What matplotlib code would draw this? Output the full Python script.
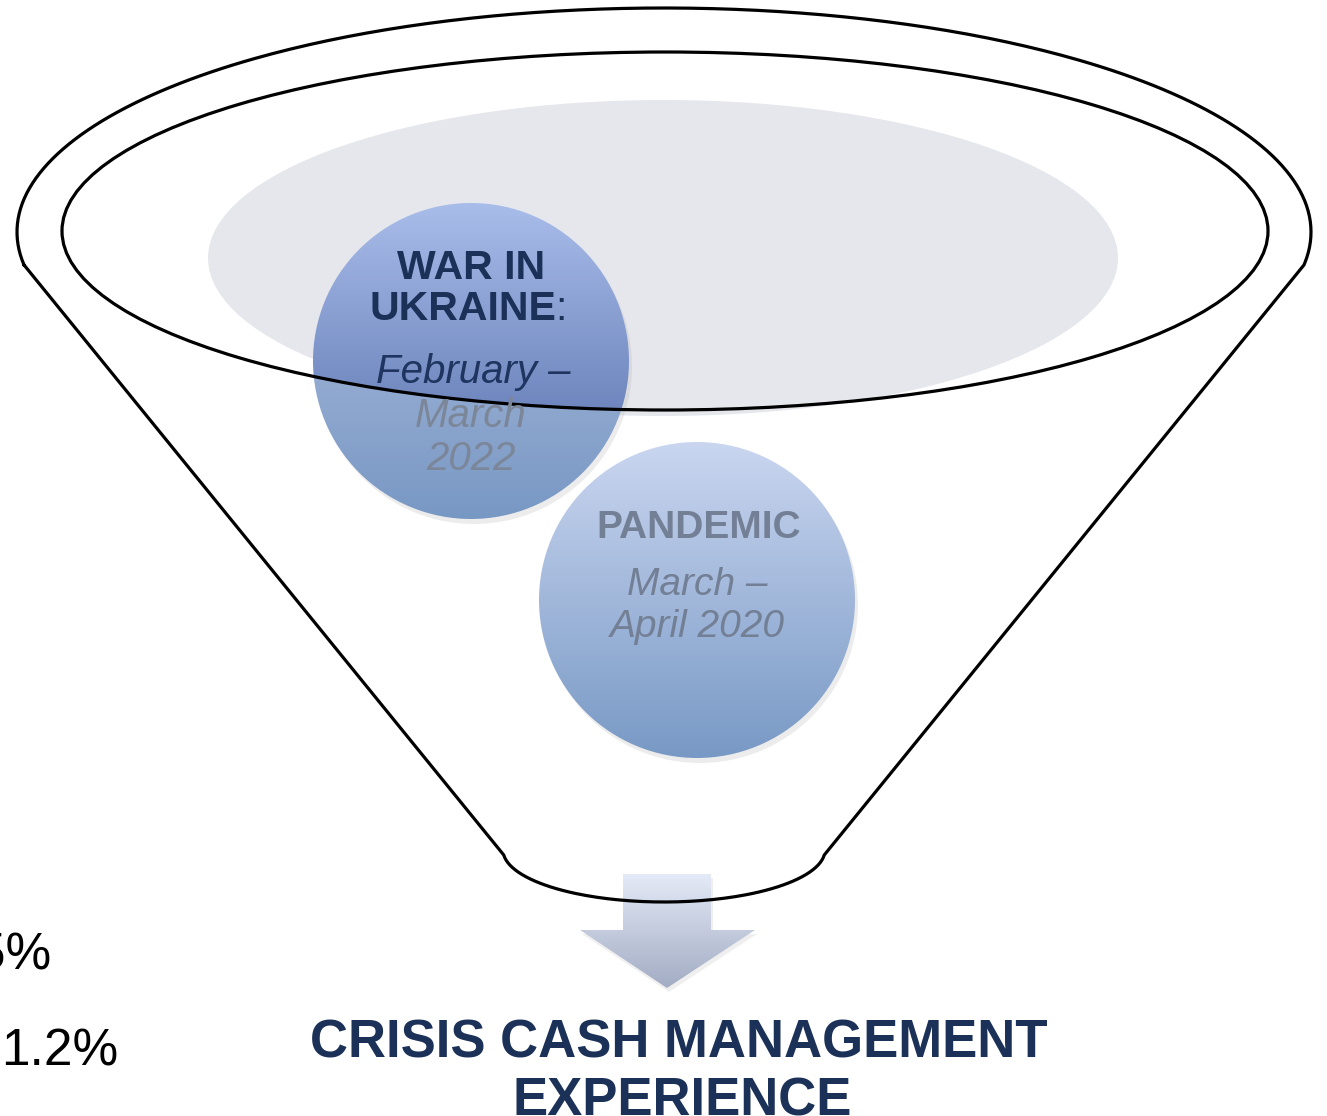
import numpy as np
import matplotlib.pyplot as plt
from matplotlib.colors import to_rgb
from matplotlib.patches import Circle, Ellipse, Polygon, PathPatch
from matplotlib.path import Path

plt.rcParams["font.family"] = ["Liberation Sans", "DejaVu Sans"]

W, H = 1327, 1116

# circle labels
war_title = ["WAR IN", "UKRAINE"]
war_dates = ["February \u2013", "March", "2022"]
pandemic_title = ["PANDEMIC"]
pandemic_dates = ["March \u2013", "April 2020"]
result_lines = ["CRISIS CASH MANAGEMENT", "EXPERIENCE"]
side_values = ["0.5%", "1.2%"]

NAVY = "#1B3157"
GREY_TXT = "#737F95"


def lerp_colors(top, bottom, n):
    t = np.linspace(0, 1, n)[:, None]
    return (1 - t) * np.array(to_rgb(top)) + t * np.array(to_rgb(bottom))


def vgrad(ax, x0, x1, y0, y1, top, bottom, clip, zorder):
    arr = lerp_colors(top, bottom, 256)[:, None, :]
    im = ax.imshow(arr, extent=(x0, x1, y1, y0), aspect="auto",
                   interpolation="bilinear", zorder=zorder)
    im.set_clip_path(clip)
    return im


fig = plt.figure(figsize=(W / 100, H / 100), dpi=100)
ax = fig.add_axes([0, 0, 1, 1])
ax.axis("off")

# grey back ellipse inside the funnel mouth
ax.add_patch(Ellipse((663, 258), 910, 316, facecolor="#E6E7EC",
                     edgecolor="none", zorder=1))

# inner ellipse of the funnel mouth
icx, icy, ia, ib = 665, 231, 603, 179

# --- war circle: darker inside the mouth, washed out below it
c1x, c1y, r = 471, 361, 158
ax.add_patch(Circle((c1x + 3, c1y + 5), r, facecolor="#9A9A9A", alpha=0.18,
                    edgecolor="none", zorder=2))
clip1 = Circle((c1x, c1y), r, transform=ax.transData)
ys, xs = np.mgrid[c1y - r:c1y + r + 1, c1x - r:c1x + r + 1]
inside = ((xs - icx) / ia) ** 2 + ((ys - icy) / ib) ** 2 < 1
t = (ys - (c1y - r)) / (2 * r)
top_in, bot_in = np.array(to_rgb("#A9BDEA")), np.array(to_rgb("#4F69A6"))
top_out, bot_out = np.array(to_rgb("#B4C1E0")), np.array(to_rgb("#7898C4"))
col_in = (1 - t)[..., None] * top_in + t[..., None] * bot_in
col_out = (1 - t)[..., None] * top_out + t[..., None] * bot_out
img = np.where(inside[..., None], col_in, col_out)
im = ax.imshow(img, extent=(c1x - r, c1x + r, c1y + r, c1y - r), aspect="auto",
               interpolation="bilinear", zorder=3)
im.set_clip_path(clip1)

# --- pandemic circle
c2x, c2y = 697, 600
ax.add_patch(Circle((c2x + 3, c2y + 5), r, facecolor="#9A9A9A", alpha=0.18,
                    edgecolor="none", zorder=2))
clip2 = Circle((c2x, c2y), r, transform=ax.transData)
vgrad(ax, c2x - r, c2x + r, c2y - r, c2y + r, "#CAD6F0", "#7899C5", clip2, 3)

# --- arrow
arrow_pts = [(623, 874), (711, 874), (711, 930), (755, 930), (667, 988),
             (580, 930), (623, 930)]
ax.add_patch(Polygon([(x + 2, y + 4) for x, y in arrow_pts], closed=True,
                     facecolor="#999999", alpha=0.15, edgecolor="none", zorder=2))
arrow = Polygon(arrow_pts, closed=True, transform=ax.transData)
vgrad(ax, 580, 755, 874, 988, "#E4EAF7", "#A2ACC3", arrow, 3)

# --- funnel outline
ocx, ocy, oa, ob = 664, 232, 647, 224
th = np.arcsin(33 / ob)
t_top = np.linspace(np.pi - th, 2 * np.pi + th, 300)
top_arc = np.c_[ocx + oa * np.cos(t_top), ocy + ob * np.sin(t_top)]
bcx, bcy, ba, bb = 664, 850, 161, 52
tb = np.arcsin(5 / bb)
t_bot = np.linspace(tb, np.pi - tb, 120)
bot_arc = np.c_[bcx + ba * np.cos(t_bot), bcy + bb * np.sin(t_bot)]
outline = np.vstack([top_arc, bot_arc, top_arc[:1]])
ax.plot(outline[:, 0], outline[:, 1], color="black", lw=2.3,
        solid_joinstyle="round", zorder=6)
ax.add_patch(Ellipse((icx, icy), 2 * ia, 2 * ib, facecolor="none",
                     edgecolor="black", lw=2.3, zorder=6))

# --- circle texts
ax.text(c1x, 279, war_title[0], ha="center", va="baseline", fontsize=29.5,
        fontweight="bold", color=NAVY, zorder=7)
ax.text(c1x - 8, 320, war_title[1], ha="center", va="baseline", fontsize=29.5,
        fontweight="bold", color=NAVY, zorder=7)
ax.text(c1x + 84, 320, ":", ha="left", va="baseline", fontsize=29.5,
        color=NAVY, zorder=7)
ax.text(c1x + 2, 383, war_dates[0], ha="center", va="baseline", fontsize=29,
        style="italic", color="#1F3560", zorder=7)
ax.text(c1x, 427, war_dates[1], ha="center", va="baseline", fontsize=29,
        style="italic", color="#7C8699", zorder=7)
ax.text(c1x, 470, war_dates[2], ha="center", va="baseline", fontsize=29,
        style="italic", color="#7C8699", zorder=7)

ax.text(c2x + 2, 538, pandemic_title[0], ha="center", va="baseline",
        fontsize=28, fontweight="bold", color=GREY_TXT, zorder=7)
ax.text(c2x, 595, pandemic_dates[0], ha="center", va="baseline", fontsize=28,
        style="italic", color=GREY_TXT, zorder=7)
ax.text(c2x, 637, pandemic_dates[1], ha="center", va="baseline", fontsize=28,
        style="italic", color=GREY_TXT, zorder=7)

# --- result text
ax.text(679, 1058, result_lines[0], ha="center", va="baseline", fontsize=38,
        fontweight="bold", color=NAVY, zorder=7)
ax.text(682, 1115, result_lines[1], ha="center", va="baseline", fontsize=38,
        fontweight="bold", color=NAVY, zorder=7)

# --- cut-off values from the neighbouring slide
ax.text(51, 970, side_values[0], ha="right", va="baseline", fontsize=37,
        color="black", zorder=7)
ax.text(1, 1065, side_values[1], ha="left", va="baseline", fontsize=37,
        color="black", zorder=7)

ax.set_xlim(0, W)
ax.set_ylim(H, 0)
fig.savefig("out.png", dpi=100, facecolor="white")
